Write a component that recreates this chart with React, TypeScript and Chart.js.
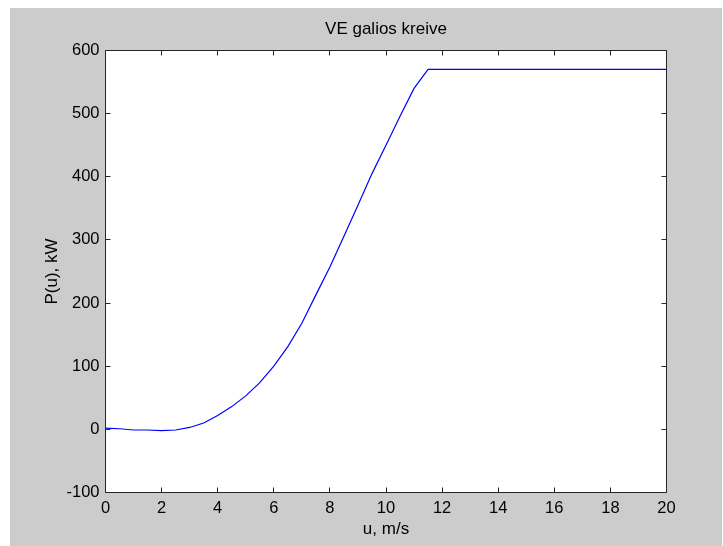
import { useEffect, useRef } from "react";
import { Chart, registerables } from "chart.js";

Chart.register(...registerables);

// Wind turbine power curve: wind speed (m/s) vs. output power (kW)
const speeds = [0, 0.5, 1, 1.5, 2, 2.5, 3, 3.5, 4, 4.5, 5, 5.5, 6, 6.5, 7, 7.5, 8, 8.5, 9, 9.5, 10, 10.5, 11, 11.5, 12, 14, 16, 18, 20];
const power = [2, 1, -1, -1, -2, -1, 3, 10, 22, 36, 53, 74, 100, 131, 168, 213, 257, 306, 355, 405, 450, 496, 540, 570, 570, 570, 570, 570, 570];

const xTickValues = [0, 2, 4, 6, 8, 10, 12, 14, 16, 18, 20];
const yTickValues = [-100, 0, 100, 200, 300, 400, 500, 600];

const titleText = "VE galios kreive";
const xLabel = "u, m/s";
const yLabel = "P(u), kW";

const FONT = "'Liberation Sans', Arial, sans-serif";
const AXIS_COLOR = "#262626";
const TEXT_COLOR = "#000000";
const FIGURE_BG = "#cccccc";

const figurePlugin = {
  id: "figureFrame",
  beforeDraw(chart: any) {
    const { ctx, width, height, chartArea: a } = chart;
    ctx.save();
    ctx.fillStyle = "#ffffff";
    ctx.fillRect(0, 0, width, height);
    ctx.fillStyle = FIGURE_BG;
    ctx.fillRect(10, 8, width - 11, height - 8);
    ctx.fillStyle = "#ffffff";
    ctx.fillRect(a.left, a.top, a.right - a.left, a.bottom - a.top);
    ctx.restore();
  },
  afterDraw(chart: any) {
    const { ctx, chartArea: a } = chart;
    const xs = chart.scales.x;
    const ys = chart.scales.y;
    const L = Math.floor(a.left) + 0.5;
    const R = Math.floor(a.right) + 0.5;
    const T = Math.floor(a.top) + 0.5;
    const B = Math.floor(a.bottom) + 0.5;
    const tickLen = 5;
    ctx.save();
    ctx.strokeStyle = AXIS_COLOR;
    ctx.lineWidth = 1;
    ctx.beginPath();
    ctx.rect(L, T, R - L, B - T);
    ctx.stroke();
    // inward tick marks on all four sides
    ctx.beginPath();
    xs.ticks.forEach((t: any) => {
      const px = Math.floor(xs.getPixelForValue(t.value)) + 0.5;
      ctx.moveTo(px, B);
      ctx.lineTo(px, B - tickLen);
      ctx.moveTo(px, T);
      ctx.lineTo(px, T + tickLen);
    });
    ys.ticks.forEach((t: any) => {
      const py = Math.floor(ys.getPixelForValue(t.value)) + 0.5;
      ctx.moveTo(L, py);
      ctx.lineTo(L + tickLen, py);
      ctx.moveTo(R, py);
      ctx.lineTo(R - tickLen, py);
    });
    ctx.stroke();

    const cx = (a.left + a.right) / 2;
    const cy = (a.top + a.bottom) / 2;
    ctx.fillStyle = TEXT_COLOR;
    ctx.font = `17px ${FONT}`;
    ctx.textAlign = "center";
    ctx.textBaseline = "alphabetic";
    ctx.fillText(titleText, cx, 34);
    ctx.fillText(xLabel, cx, 534);
    ctx.translate(56.5, cy);
    ctx.rotate(-Math.PI / 2);
    ctx.fillText(yLabel, 0, 0);
    ctx.restore();
  },
};

export default function App() {
  const canvasRef = useRef<HTMLCanvasElement | null>(null);

  useEffect(() => {
    const canvas = canvasRef.current;
    if (!canvas) return;
    const points = speeds.map((u, i) => ({ x: u, y: power[i] }));
    const chart = new Chart(canvas, {
      type: "line",
      data: {
        datasets: [
          {
            data: points,
            borderColor: "#0000ff",
            borderWidth: 1.2,
            pointRadius: 0,
            tension: 0,
            fill: false,
          },
        ],
      },
      options: {
        responsive: false,
        maintainAspectRatio: false,
        devicePixelRatio: 1,
        animation: false,
        events: [],
        layout: { padding: { left: 0, top: 50.5, right: 56.5, bottom: 0 } },
        plugins: {
          legend: { display: false },
          title: { display: false },
          tooltip: { enabled: false },
        },
        scales: {
          x: {
            type: "linear",
            min: 0,
            max: 20,
            afterBuildTicks: (scale: any) => {
              scale.ticks = xTickValues.map((v) => ({ value: v }));
            },
            afterFit: (scale: any) => {
              scale.height = 53.5;
            },
            grid: { display: false, drawTicks: false },
            border: { display: false },
            ticks: {
              padding: 6.5,
              maxRotation: 0,
              autoSkip: false,
              color: TEXT_COLOR,
              font: { family: FONT, size: 16.5 },
            },
          },
          y: {
            type: "linear",
            min: -100,
            max: 600,
            afterBuildTicks: (scale: any) => {
              scale.ticks = yTickValues.map((v) => ({ value: v }));
            },
            afterFit: (scale: any) => {
              scale.width = 105.5;
            },
            grid: { display: false, drawTicks: false },
            border: { display: false },
            ticks: {
              padding: 6,
              autoSkip: false,
              color: TEXT_COLOR,
              font: { family: FONT, size: 16.5 },
            },
          },
        },
      },
      plugins: [figurePlugin],
    });
    return () => chart.destroy();
  }, []);

  return (
    <div style={{ position: "absolute", left: 0, top: 0, width: 723, height: 546 }}>
      <canvas ref={canvasRef} width={723} height={546} style={{ display: "block", width: 723, height: 546 }} />
    </div>
  );
}
